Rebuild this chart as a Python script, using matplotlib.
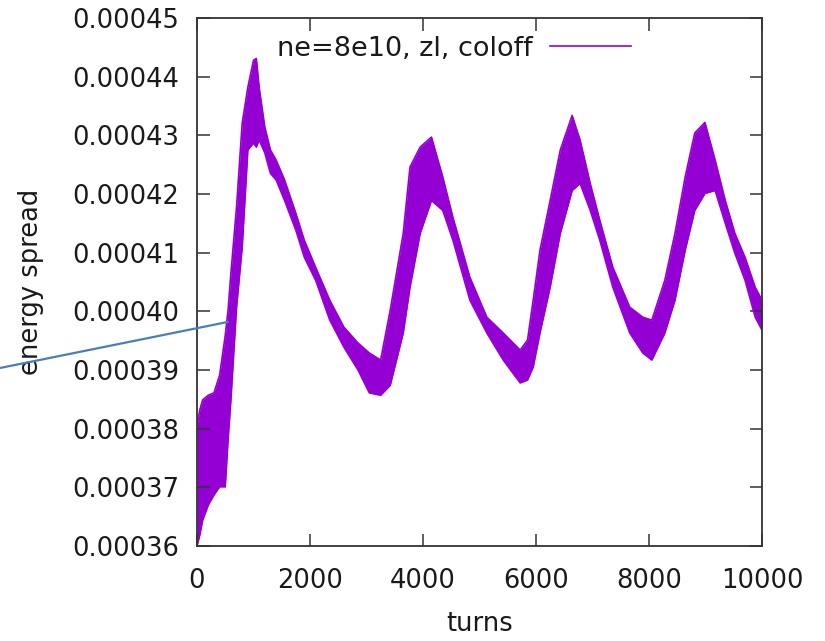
import numpy as np
import matplotlib
matplotlib.use("Agg")
import matplotlib.pyplot as plt
from matplotlib.ticker import FuncFormatter

# ---- data: envelope of the fast-oscillating trace ----
turns = [0, 50, 100, 200, 300, 400, 500, 550, 600, 700, 800, 900, 1000, 1050,
         1100, 1200, 1300, 1400, 1550, 1750, 1900, 2100, 2350, 2600, 2850,
         3050, 3250, 3420, 3650, 3770, 3950, 4150, 4350, 4530, 4830, 5130,
         5420, 5720, 5850, 5950, 6070, 6250, 6430, 6640, 6780, 6960, 7130,
         7360, 7660, 7890, 8050, 8280, 8460, 8640, 8810, 8990, 9170, 9350,
         9520, 9700, 9880, 10000]
upper = [0.0003806, 0.0003832, 0.0003849, 0.0003857, 0.0003861, 0.0003891,
         0.0003959, 0.0004002, 0.0004065, 0.0004178, 0.0004321, 0.0004382,
         0.0004428, 0.0004431, 0.0004382, 0.0004314, 0.0004275, 0.0004258,
         0.0004224, 0.0004167, 0.0004121, 0.0004075, 0.0004019, 0.0003973,
         0.0003946, 0.0003929, 0.0003917, 0.0004002, 0.0004133, 0.0004246,
         0.0004280, 0.0004297, 0.0004229, 0.0004160, 0.0004058, 0.0003990,
         0.0003963, 0.0003934, 0.0003951, 0.0004019, 0.0004104, 0.0004189,
         0.0004275, 0.0004334, 0.0004292, 0.0004218, 0.0004155, 0.0004075,
         0.0004007, 0.0003990, 0.0003985, 0.0004053, 0.0004133, 0.0004229,
         0.0004304, 0.0004322, 0.0004258, 0.0004189, 0.0004133, 0.0004092,
         0.0004041, 0.0004019]
lower = [0.0003600, 0.0003619, 0.0003644, 0.0003670, 0.0003687, 0.0003701,
         0.0003701, 0.0003781, 0.0003849, 0.0004007, 0.0004109, 0.0004275,
         0.0004287, 0.0004280, 0.0004292, 0.0004270, 0.0004235, 0.0004224,
         0.0004189, 0.0004138, 0.0004092, 0.0004053, 0.0003985, 0.0003939,
         0.0003900, 0.0003861, 0.0003857, 0.0003874, 0.0003963, 0.0004041,
         0.0004133, 0.0004189, 0.0004172, 0.0004121, 0.0004019, 0.0003963,
         0.0003917, 0.0003878, 0.0003883, 0.0003905, 0.0003963, 0.0004041,
         0.0004133, 0.0004206, 0.0004218, 0.0004172, 0.0004121, 0.0004041,
         0.0003963, 0.0003929, 0.0003917, 0.0003963, 0.0004019, 0.0004104,
         0.0004172, 0.0004201, 0.0004206, 0.0004150, 0.0004099, 0.0004053,
         0.0003990, 0.0003968]
series_label = "ne=8e10, zl, coloff"
xticks = [0, 2000, 4000, 6000, 8000, 10000]
yticks = [0.00036, 0.00037, 0.00038, 0.00039, 0.00040, 0.00041, 0.00042,
          0.00043, 0.00044, 0.00045]
annot_point = (550, 0.0003982)

# ---- figure ----
W, H, DPI = 825, 641, 100
fig = plt.figure(figsize=(W / DPI, H / DPI), dpi=DPI)
ax = fig.add_axes([197 / W, 1 - 546 / H, (762 - 197) / W, (546 - 18) / H])

color = "#9400d3"
ax.fill_between(turns, lower, upper, color=color, lw=0)
ax.plot(turns, upper, color=color, lw=1.2)
ax.plot(turns, lower, color=color, lw=1.2, label=series_label)

ax.set_xlim(0, 10000)
ax.set_ylim(0.00036, 0.00045)
ax.set_xticks(xticks)
ax.set_yticks(yticks)
ax.yaxis.set_major_formatter(FuncFormatter(lambda v, p: f"{v:.5f}"))
ax.tick_params(direction="in", length=9, width=1.1, top=True, right=True,
               labelsize=18.5, colors="#333333", labelcolor="#1a1a1a")
ax.tick_params(axis="y", pad=13)
ax.tick_params(axis="x", pad=16)
for s in ax.spines.values():
    s.set_color("#333333")
    s.set_linewidth(1.3)

ax.set_xlabel("turns", fontsize=18.5, color="#1a1a1a", labelpad=12)
ax.set_ylabel("energy spread", fontsize=18.5, color="#1a1a1a")
ax.yaxis.set_label_coords(-(197 - 44) / (762 - 197), 0.5)

leg = ax.legend(loc="upper center", bbox_to_anchor=((454 - 197) / (762 - 197), 1.0),
                frameon=False, markerfirst=False, fontsize=19.5, handlelength=3.0,
                handletextpad=0.65, borderaxespad=0.25)
for t in leg.get_texts():
    t.set_color("#1a1a1a")

# annotation line from the left edge of the figure to the curve
ax.annotate("", xy=annot_point, xycoords="data",
            xytext=(0, 1 - 368 / H), textcoords="figure fraction",
            arrowprops=dict(arrowstyle="-", color="#4a7ebb", lw=1.6,
                            shrinkA=0, shrinkB=0),
            annotation_clip=False)

fig.savefig("out.png", dpi=DPI)
